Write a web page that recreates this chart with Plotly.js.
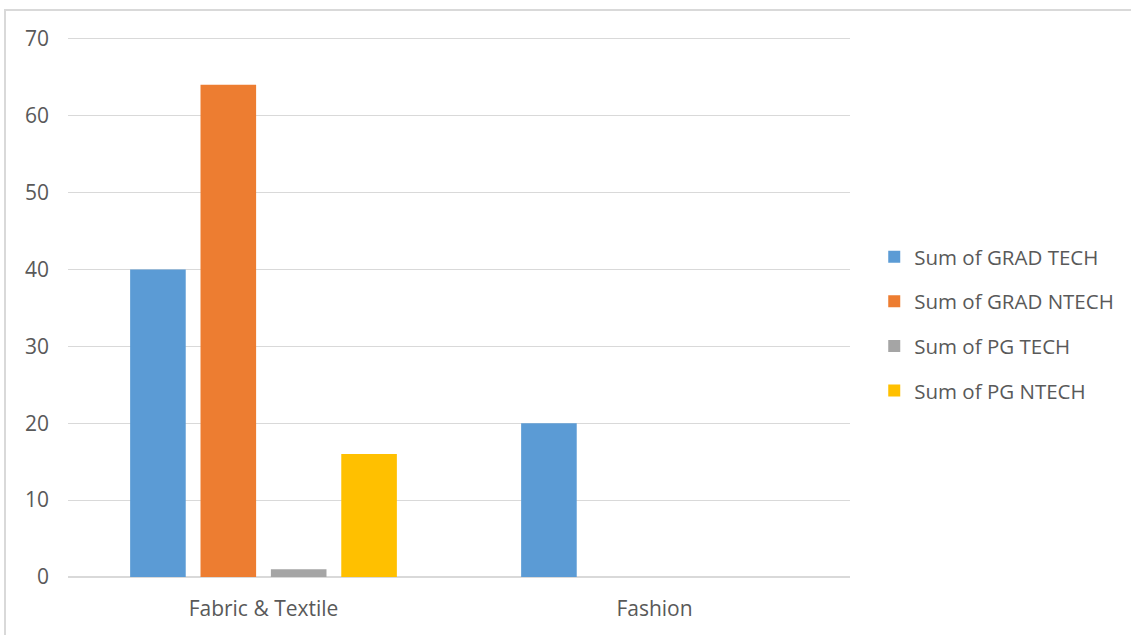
<!DOCTYPE html>
<html>
<head>
<meta charset="utf-8">
<script src="https://cdn.plot.ly/plotly-3.0.1.min.js"></script>
<style>
  html, body { margin: 0; padding: 0; background: #fff; overflow: hidden; }
  #frame { position: absolute; left: 4px; top: 9px; width: 1150px; height: 650px; border: 2px solid #d9d9d9; box-sizing: border-box; }
  #chart { position: absolute; left: 0; top: 0; width: 1131px; height: 635px; }
</style>
</head>
<body>
<div id="frame"></div>
<div id="chart"></div>
<script>
const categories = ["Fabric & Textile", "Fashion"];
const seriesNames = ["Sum of GRAD TECH", "Sum of GRAD NTECH", "Sum of PG TECH", "Sum of PG NTECH"];
const gradTech = [40, 20];
const gradNtech = [64, 0];
const pgTech = [1, 0];
const pgNtech = [16, 0];
const colors = ["#5b9bd5", "#ed7d31", "#a5a5a5", "#ffc000"];

const seriesValues = [gradTech, gradNtech, pgTech, pgNtech];
const traces = seriesValues.map((vals, i) => ({
  type: "bar",
  name: seriesNames[i],
  x: categories,
  y: vals,
  marker: { color: colors[i] },
  legendgroup: "g" + i,
  hoverinfo: "x+y+name"
}));

const fam = "Open Sans, Noto Sans, sans-serif";
const txt = "#595959";

const layout = {
  width: 1131,
  height: 635,
  paper_bgcolor: "rgba(0,0,0,0)",
  plot_bgcolor: "rgba(0,0,0,0)",
  margin: { l: 68, r: 281, t: 31, b: 58 },
  barmode: "group",
  bargap: 0.28,
  bargroupgap: 0.21,
  font: { family: fam, size: 20, color: txt },
  xaxis: {
    type: "category",
    showgrid: false,
    showline: false,
    ticks: "",
    ticklabelstandoff: 17,
    tickfont: { family: fam, size: 21, color: txt }
  },
  yaxis: {
    range: [0, 71],
    tickvals: [0, 10, 20, 30, 40, 50, 60, 70],
    showgrid: true,
    gridcolor: "#d9d9d9",
    gridwidth: 1,
    zeroline: true,
    zerolinecolor: "#d9d9d9",
    zerolinewidth: 2,
    showline: false,
    ticks: "",
    ticklabelstandoff: 18,
    tickfont: { family: fam, size: 21, color: txt }
  },
  showlegend: true,
  legend: {
    x: 1.031,
    xanchor: "left",
    y: 0.623,
    yanchor: "top",
    font: { family: fam, size: 20.5, color: txt },
    tracegroupgap: 15,
    traceorder: "grouped",
    bgcolor: "rgba(0,0,0,0)"
  }
};

Plotly.newPlot("chart", traces, layout, { displayModeBar: false, staticPlot: true });
</script>
</body>
</html>
